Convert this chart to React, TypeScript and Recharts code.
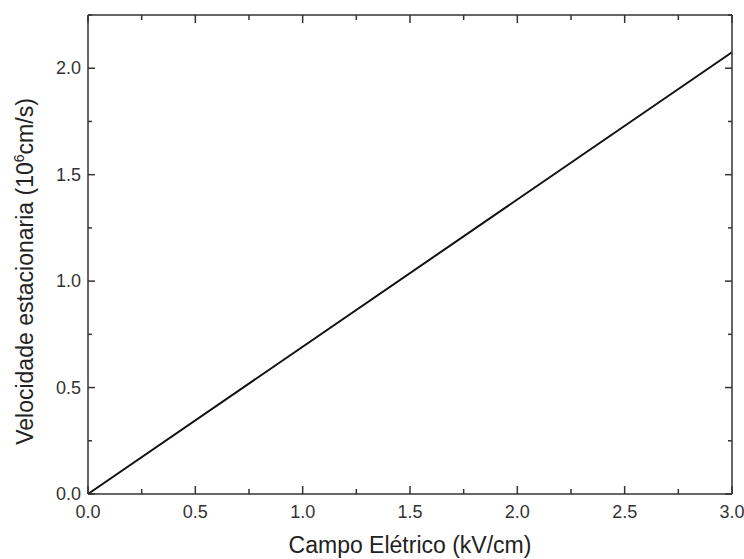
import { Line, LineChart, XAxis, YAxis } from "recharts";

const campo = [0, 3.0];
const velocidade = [0, 2.075];
const xTicks = [0, 0.25, 0.5, 0.75, 1.0, 1.25, 1.5, 1.75, 2.0, 2.25, 2.5, 2.75, 3.0];
const yTicks = [0, 0.25, 0.5, 0.75, 1.0, 1.25, 1.5, 1.75, 2.0, 2.25];
const xTitle = "Campo Elétrico (kV/cm)";
const yTitle = ["Velocidade estacionaria (10", "6", "cm/s)"];

const data = campo.map((x, i) => ({ x, v: velocidade[i] }));

const FONT = "'Liberation Sans', Arial, sans-serif";
const AXIS = "#333";
const isMajor = (v: number) => Math.abs(v * 2 - Math.round(v * 2)) < 1e-9;

function BottomTick({ x, y, payload }: any) {
  const major = isMajor(payload.value);
  return (
    <g>
      <line x1={x} y1={y} x2={x} y2={y - (major ? 8 : 5)} stroke={AXIS} strokeWidth={1.5} />
      {major && (
        <text x={x} y={y + 24} textAnchor="middle" fontSize={18} fill="#333" fontFamily={FONT}>
          {payload.value.toFixed(1)}
        </text>
      )}
    </g>
  );
}

function TopTick({ x, y, payload }: any) {
  const major = isMajor(payload.value);
  return <line x1={x} y1={y} x2={x} y2={y + (major ? 8 : 5)} stroke={AXIS} strokeWidth={1.5} />;
}

function LeftTick({ x, y, payload }: any) {
  const major = isMajor(payload.value);
  return (
    <g>
      <line x1={x} y1={y} x2={x + (major ? 7 : 4)} y2={y} stroke={AXIS} strokeWidth={1.5} />
      {major && (
        <text x={x - 7} y={y + 6} textAnchor="end" fontSize={18} fill="#333" fontFamily={FONT}>
          {payload.value.toFixed(1)}
        </text>
      )}
    </g>
  );
}

function RightTick({ x, y, payload }: any) {
  const major = isMajor(payload.value);
  return <line x1={x} y1={y} x2={x - (major ? 7 : 4)} y2={y} stroke={AXIS} strokeWidth={1.5} />;
}

function XTitle({ viewBox }: any) {
  const cx = viewBox.x + viewBox.width / 2;
  return (
    <text x={cx} y={viewBox.y + 59} textAnchor="middle" fontSize={23} fill="#222" fontFamily={FONT}>
      {xTitle}
    </text>
  );
}

function YTitle({ viewBox }: any) {
  const tx = viewBox.x + 33;
  const ty = viewBox.y + viewBox.height / 2 + 17;
  return (
    <text
      x={tx}
      y={ty}
      textAnchor="middle"
      fontSize={23}
      fill="#222"
      fontFamily={FONT}
      transform={`rotate(-90, ${tx}, ${ty})`}
    >
      {yTitle[0]}
      <tspan dy={-9} fontSize={14}>{yTitle[1]}</tspan>
      <tspan dy={9}>{yTitle[2]}</tspan>
    </text>
  );
}

export default function App() {
  return (
    <div style={{ position: "absolute", left: 0, top: 0, background: "#fff" }}>
      <LineChart width={744} height={559} data={data} margin={{ top: 14, right: 11, bottom: 0, left: 0 }}>
        <XAxis
          xAxisId="b"
          dataKey="x"
          type="number"
          domain={[0, 3]}
          ticks={xTicks}
          interval={0}
          height={65}
          tickSize={0}
          tickMargin={0}
          tickLine={false}
          axisLine={{ stroke: AXIS, strokeWidth: 1.5 }}
          tick={<BottomTick />}
          label={<XTitle />}
        />
        <XAxis
          xAxisId="t"
          dataKey="x"
          type="number"
          orientation="top"
          domain={[0, 3]}
          ticks={xTicks}
          interval={0}
          height={1}
          tickSize={0}
          tickMargin={0}
          tickLine={false}
          axisLine={{ stroke: AXIS, strokeWidth: 1.5 }}
          tick={<TopTick />}
        />
        <YAxis
          yAxisId="l"
          type="number"
          domain={[0, 2.25]}
          ticks={yTicks}
          interval={0}
          width={88}
          tickSize={0}
          tickMargin={0}
          tickLine={false}
          axisLine={{ stroke: AXIS, strokeWidth: 1.5 }}
          tick={<LeftTick />}
          label={<YTitle />}
        />
        <YAxis
          yAxisId="r"
          type="number"
          orientation="right"
          domain={[0, 2.25]}
          ticks={yTicks}
          interval={0}
          width={1}
          tickSize={0}
          tickMargin={0}
          tickLine={false}
          axisLine={{ stroke: AXIS, strokeWidth: 1.5 }}
          tick={<RightTick />}
        />
        <Line
          xAxisId="b"
          yAxisId="l"
          type="linear"
          dataKey="v"
          stroke="#111"
          strokeWidth={2}
          dot={false}
          isAnimationActive={false}
        />
        <Line
          xAxisId="t"
          yAxisId="r"
          type="linear"
          dataKey="v"
          stroke="none"
          dot={false}
          legendType="none"
          isAnimationActive={false}
        />
      </LineChart>
    </div>
  );
}
